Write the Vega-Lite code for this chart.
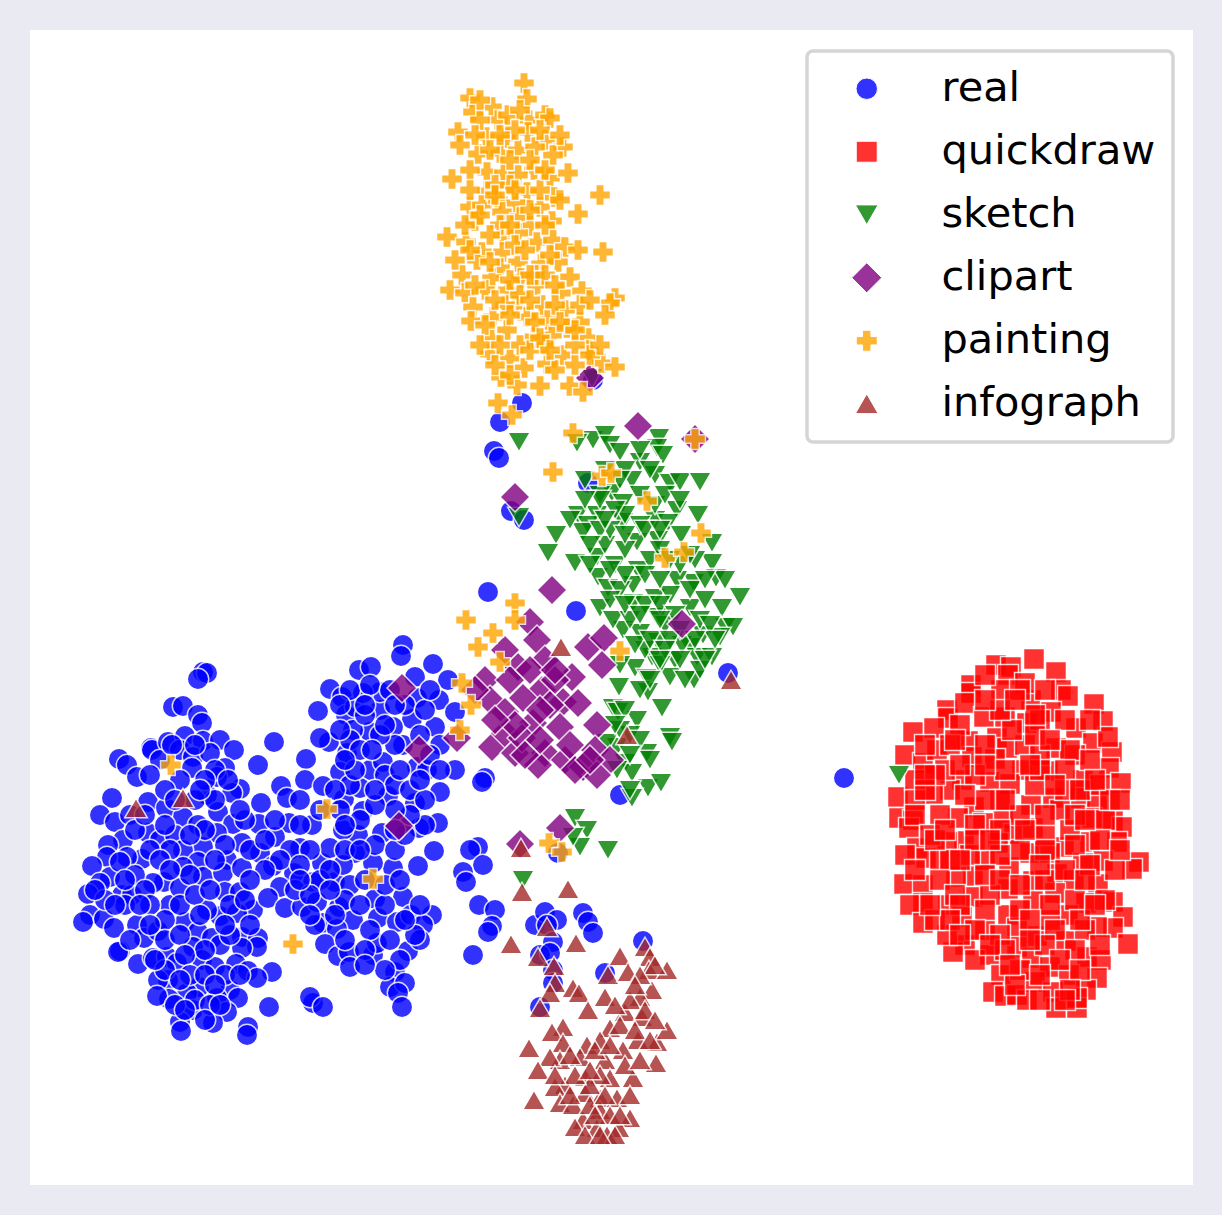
{"$schema":"https://vega.github.io/schema/vega-lite/v6.json","width":1163,"height":1155,"autosize":{"type":"none"},"padding":{"left":30,"top":30,"right":29,"bottom":30},"background":"#eaeaf2","config":{"view":{"fill":"white","stroke":null}},
"data":{"values":[
{"s":"real","x":203,"y":672},{"s":"real","x":207,"y":673},{"s":"real","x":198,"y":679},{"s":"real","x":173,"y":707},{"s":"real","x":183,"y":706},{"s":"real","x":198,"y":715},{"s":"real","x":202,"y":723},{"s":"real","x":151,"y":748},{"s":"real","x":152,"y":750},{"s":"real","x":168,"y":742},{"s":"real","x":185,"y":736},{"s":"real","x":203,"y":741},{"s":"real","x":220,"y":740},{"s":"real","x":234,"y":750},{"s":"real","x":119,"y":759},{"s":"real","x":127,"y":765},{"s":"real","x":137,"y":777},{"s":"real","x":180,"y":750},{"s":"real","x":193,"y":757},{"s":"real","x":210,"y":753},{"s":"real","x":225,"y":768},{"s":"real","x":217,"y":777},{"s":"real","x":240,"y":789},{"s":"real","x":232,"y":793},{"s":"real","x":192,"y":768},{"s":"real","x":207,"y":795},{"s":"real","x":112,"y":798},{"s":"real","x":100,"y":815},{"s":"real","x":115,"y":822},{"s":"real","x":148,"y":802},{"s":"real","x":166,"y":808},{"s":"real","x":183,"y":817},{"s":"real","x":198,"y":825},{"s":"real","x":218,"y":812},{"s":"real","x":233,"y":824},{"s":"real","x":242,"y":843},{"s":"real","x":217,"y":833},{"s":"real","x":148,"y":833},{"s":"real","x":123,"y":840},{"s":"real","x":108,"y":845},{"s":"real","x":160,"y":840},{"s":"real","x":175,"y":835},{"s":"real","x":203,"y":847},{"s":"real","x":183,"y":850},{"s":"real","x":142,"y":859},{"s":"real","x":127,"y":857},{"s":"real","x":107,"y":857},{"s":"real","x":92,"y":866},{"s":"real","x":110,"y":877},{"s":"real","x":100,"y":883},{"s":"real","x":88,"y":894},{"s":"real","x":90,"y":915},{"s":"real","x":83,"y":922},{"s":"real","x":104,"y":919},{"s":"real","x":114,"y":928},{"s":"real","x":122,"y":895},{"s":"real","x":132,"y":895},{"s":"real","x":137,"y":925},{"s":"real","x":144,"y":938},{"s":"real","x":158,"y":931},{"s":"real","x":170,"y":905},{"s":"real","x":164,"y":882},{"s":"real","x":153,"y":883},{"s":"real","x":180,"y":888},{"s":"real","x":198,"y":862},{"s":"real","x":183,"y":867},{"s":"real","x":203,"y":877},{"s":"real","x":227,"y":860},{"s":"real","x":223,"y":873},{"s":"real","x":242,"y":868},{"s":"real","x":225,"y":892},{"s":"real","x":240,"y":892},{"s":"real","x":253,"y":910},{"s":"real","x":220,"y":916},{"s":"real","x":237,"y":913},{"s":"real","x":207,"y":910},{"s":"real","x":185,"y":922},{"s":"real","x":198,"y":932},{"s":"real","x":212,"y":938},{"s":"real","x":242,"y":937},{"s":"real","x":258,"y":938},{"s":"real","x":257,"y":947},{"s":"real","x":242,"y":948},{"s":"real","x":193,"y":947},{"s":"real","x":120,"y":951},{"s":"real","x":118,"y":952},{"s":"real","x":138,"y":964},{"s":"real","x":153,"y":958},{"s":"real","x":167,"y":957},{"s":"real","x":177,"y":963},{"s":"real","x":202,"y":960},{"s":"real","x":215,"y":967},{"s":"real","x":236,"y":964},{"s":"real","x":248,"y":971},{"s":"real","x":272,"y":972},{"s":"real","x":257,"y":978},{"s":"real","x":168,"y":980},{"s":"real","x":158,"y":980},{"s":"real","x":199,"y":987},{"s":"real","x":230,"y":990},{"s":"real","x":217,"y":998},{"s":"real","x":187,"y":993},{"s":"real","x":169,"y":999},{"s":"real","x":157,"y":996},{"s":"real","x":238,"y":998},{"s":"real","x":227,"y":1012},{"s":"real","x":193,"y":1010},{"s":"real","x":180,"y":1022},{"s":"real","x":181,"y":1031},{"s":"real","x":213,"y":1023},{"s":"real","x":248,"y":1027},{"s":"real","x":247,"y":1035},{"s":"real","x":269,"y":1007},{"s":"real","x":274,"y":742},{"s":"real","x":258,"y":765},{"s":"real","x":306,"y":759},{"s":"real","x":305,"y":780},{"s":"real","x":323,"y":786},{"s":"real","x":281,"y":786},{"s":"real","x":287,"y":798},{"s":"real","x":261,"y":803},{"s":"real","x":259,"y":824},{"s":"real","x":289,"y":823},{"s":"real","x":312,"y":825},{"s":"real","x":275,"y":837},{"s":"real","x":260,"y":853},{"s":"real","x":300,"y":848},{"s":"real","x":273,"y":866},{"s":"real","x":294,"y":873},{"s":"real","x":280,"y":887},{"s":"real","x":268,"y":898},{"s":"real","x":285,"y":908},{"s":"real","x":302,"y":907},{"s":"real","x":313,"y":882},{"s":"real","x":317,"y":902},{"s":"real","x":322,"y":863},{"s":"real","x":335,"y":882},{"s":"real","x":330,"y":848},{"s":"real","x":355,"y":853},{"s":"real","x":358,"y":835},{"s":"real","x":343,"y":830},{"s":"real","x":363,"y":811},{"s":"real","x":344,"y":799},{"s":"real","x":388,"y":796},{"s":"real","x":415,"y":803},{"s":"real","x":382,"y":833},{"s":"real","x":438,"y":823},{"s":"real","x":419,"y":828},{"s":"real","x":434,"y":851},{"s":"real","x":418,"y":866},{"s":"real","x":393,"y":868},{"s":"real","x":373,"y":863},{"s":"real","x":343,"y":865},{"s":"real","x":339,"y":907},{"s":"real","x":323,"y":923},{"s":"real","x":353,"y":920},{"s":"real","x":337,"y":929},{"s":"real","x":325,"y":944},{"s":"real","x":338,"y":956},{"s":"real","x":349,"y":952},{"s":"real","x":350,"y":967},{"s":"real","x":373,"y":955},{"s":"real","x":377,"y":943},{"s":"real","x":375,"y":899},{"s":"real","x":403,"y":897},{"s":"real","x":378,"y":918},{"s":"real","x":397,"y":922},{"s":"real","x":411,"y":915},{"s":"real","x":432,"y":915},{"s":"real","x":423,"y":925},{"s":"real","x":408,"y":951},{"s":"real","x":420,"y":940},{"s":"real","x":395,"y":972},{"s":"real","x":390,"y":987},{"s":"real","x":405,"y":983},{"s":"real","x":398,"y":993},{"s":"real","x":402,"y":1007},{"s":"real","x":313,"y":1003},{"s":"real","x":310,"y":997},{"s":"real","x":323,"y":1007},{"s":"real","x":403,"y":645},{"s":"real","x":401,"y":656},{"s":"real","x":433,"y":664},{"s":"real","x":359,"y":670},{"s":"real","x":371,"y":667},{"s":"real","x":330,"y":689},{"s":"real","x":342,"y":697},{"s":"real","x":318,"y":711},{"s":"real","x":346,"y":715},{"s":"real","x":355,"y":707},{"s":"real","x":380,"y":710},{"s":"real","x":380,"y":692},{"s":"real","x":363,"y":693},{"s":"real","x":415,"y":677},{"s":"real","x":417,"y":698},{"s":"real","x":439,"y":700},{"s":"real","x":412,"y":719},{"s":"real","x":448,"y":680},{"s":"real","x":455,"y":712},{"s":"real","x":393,"y":727},{"s":"real","x":370,"y":732},{"s":"real","x":353,"y":730},{"s":"real","x":329,"y":742},{"s":"real","x":320,"y":738},{"s":"real","x":347,"y":753},{"s":"real","x":340,"y":772},{"s":"real","x":370,"y":770},{"s":"real","x":383,"y":762},{"s":"real","x":403,"y":745},{"s":"real","x":417,"y":767},{"s":"real","x":435,"y":727},{"s":"real","x":427,"y":770},{"s":"real","x":360,"y":788},{"s":"real","x":440,"y":792},{"s":"real","x":455,"y":770},{"s":"real","x":485,"y":778},{"s":"real","x":482,"y":782},{"s":"real","x":488,"y":592},{"s":"real","x":576,"y":611},{"s":"real","x":728,"y":673},{"s":"real","x":844,"y":778},{"s":"real","x":522,"y":403},{"s":"real","x":500,"y":422},{"s":"real","x":494,"y":451},{"s":"real","x":499,"y":458},{"s":"real","x":511,"y":511},{"s":"real","x":524,"y":520},{"s":"real","x":588,"y":483},{"s":"real","x":593,"y":380},{"s":"real","x":620,"y":795},{"s":"real","x":478,"y":847},{"s":"real","x":470,"y":850},{"s":"real","x":483,"y":865},{"s":"real","x":463,"y":872},{"s":"real","x":466,"y":882},{"s":"real","x":479,"y":905},{"s":"real","x":495,"y":910},{"s":"real","x":492,"y":926},{"s":"real","x":488,"y":932},{"s":"real","x":473,"y":955},{"s":"real","x":535,"y":925},{"s":"real","x":545,"y":912},{"s":"real","x":557,"y":920},{"s":"real","x":547,"y":925},{"s":"real","x":553,"y":942},{"s":"real","x":540,"y":955},{"s":"real","x":550,"y":953},{"s":"real","x":553,"y":970},{"s":"real","x":553,"y":983},{"s":"real","x":540,"y":1007},{"s":"real","x":583,"y":913},{"s":"real","x":588,"y":922},{"s":"real","x":593,"y":933},{"s":"real","x":643,"y":941},{"s":"real","x":605,"y":973},{"s":"real","x":558,"y":853},
{"s":"real","x":160,"y":760},{"s":"real","x":172,"y":745},{"s":"real","x":195,"y":745},{"s":"real","x":215,"y":770},{"s":"real","x":205,"y":780},{"s":"real","x":228,"y":780},{"s":"real","x":180,"y":780},{"s":"real","x":165,"y":790},{"s":"real","x":195,"y":800},{"s":"real","x":175,"y":800},{"s":"real","x":215,"y":800},{"s":"real","x":130,"y":815},{"s":"real","x":135,"y":830},{"s":"real","x":165,"y":825},{"s":"real","x":205,"y":830},{"s":"real","x":225,"y":845},{"s":"real","x":190,"y":835},{"s":"real","x":170,"y":850},{"s":"real","x":150,"y":850},{"s":"real","x":120,"y":862},{"s":"real","x":135,"y":875},{"s":"real","x":160,"y":860},{"s":"real","x":190,"y":875},{"s":"real","x":215,"y":860},{"s":"real","x":170,"y":870},{"s":"real","x":145,"y":890},{"s":"real","x":125,"y":905},{"s":"real","x":150,"y":905},{"s":"real","x":180,"y":905},{"s":"real","x":195,"y":895},{"s":"real","x":210,"y":890},{"s":"real","x":230,"y":905},{"s":"real","x":165,"y":920},{"s":"real","x":200,"y":915},{"s":"real","x":130,"y":940},{"s":"real","x":165,"y":940},{"s":"real","x":180,"y":935},{"s":"real","x":220,"y":945},{"s":"real","x":230,"y":935},{"s":"real","x":205,"y":950},{"s":"real","x":185,"y":955},{"s":"real","x":165,"y":970},{"s":"real","x":190,"y":975},{"s":"real","x":225,"y":975},{"s":"real","x":240,"y":975},{"s":"real","x":205,"y":975},{"s":"real","x":180,"y":980},{"s":"real","x":215,"y":985},{"s":"real","x":195,"y":1000},{"s":"real","x":210,"y":1005},{"s":"real","x":175,"y":1005},{"s":"real","x":205,"y":1020},{"s":"real","x":185,"y":1010},{"s":"real","x":150,"y":925},{"s":"real","x":140,"y":905},{"s":"real","x":105,"y":900},{"s":"real","x":95,"y":890},{"s":"real","x":290,"y":850},{"s":"real","x":310,"y":850},{"s":"real","x":280,"y":860},{"s":"real","x":300,"y":865},{"s":"real","x":320,"y":880},{"s":"real","x":295,"y":890},{"s":"real","x":310,"y":895},{"s":"real","x":330,"y":870},{"s":"real","x":350,"y":885},{"s":"real","x":365,"y":880},{"s":"real","x":345,"y":900},{"s":"real","x":360,"y":905},{"s":"real","x":370,"y":930},{"s":"real","x":385,"y":905},{"s":"real","x":390,"y":940},{"s":"real","x":365,"y":950},{"s":"real","x":345,"y":940},{"s":"real","x":335,"y":915},{"s":"real","x":300,"y":825},{"s":"real","x":275,"y":820},{"s":"real","x":345,"y":850},{"s":"real","x":360,"y":820},{"s":"real","x":375,"y":845},{"s":"real","x":395,"y":850},{"s":"real","x":405,"y":835},{"s":"real","x":425,"y":825},{"s":"real","x":410,"y":815},{"s":"real","x":395,"y":810},{"s":"real","x":385,"y":775},{"s":"real","x":395,"y":785},{"s":"real","x":410,"y":790},{"s":"real","x":425,"y":800},{"s":"real","x":375,"y":805},{"s":"real","x":350,"y":785},{"s":"real","x":335,"y":790},{"s":"real","x":355,"y":770},{"s":"real","x":395,"y":745},{"s":"real","x":380,"y":735},{"s":"real","x":365,"y":715},{"s":"real","x":385,"y":725},{"s":"real","x":405,"y":705},{"s":"real","x":425,"y":710},{"s":"real","x":440,"y":745},{"s":"real","x":420,"y":735},{"s":"real","x":430,"y":755},{"s":"real","x":350,"y":740},{"s":"real","x":360,"y":750},{"s":"real","x":372,"y":750},{"s":"real","x":400,"y":770},{"s":"real","x":350,"y":690},{"s":"real","x":370,"y":685},{"s":"real","x":390,"y":690},{"s":"real","x":365,"y":705},{"s":"real","x":340,"y":730},{"s":"real","x":345,"y":760},{"s":"real","x":400,"y":960},{"s":"real","x":385,"y":970},{"s":"real","x":415,"y":935},{"s":"real","x":405,"y":920},{"s":"real","x":385,"y":885},{"s":"real","x":400,"y":880},{"s":"real","x":420,"y":905},
{"s":"real","x":250,"y":850},{"s":"real","x":265,"y":840},{"s":"real","x":245,"y":820},{"s":"real","x":300,"y":800},{"s":"real","x":320,"y":810},{"s":"real","x":340,"y":810},{"s":"real","x":360,"y":850},{"s":"real","x":345,"y":825},{"s":"real","x":395,"y":830},{"s":"real","x":375,"y":790},{"s":"real","x":420,"y":780},{"s":"real","x":440,"y":770},{"s":"real","x":430,"y":690},{"s":"real","x":395,"y":705},{"s":"real","x":340,"y":705},{"s":"real","x":300,"y":880},{"s":"real","x":330,"y":890},{"s":"real","x":265,"y":870},{"s":"real","x":315,"y":925},{"s":"real","x":310,"y":915},{"s":"real","x":365,"y":965},{"s":"real","x":150,"y":775},{"s":"real","x":145,"y":815},{"s":"real","x":125,"y":880},{"s":"real","x":115,"y":905},{"s":"real","x":250,"y":925},{"s":"real","x":225,"y":925},{"s":"real","x":220,"y":1005},{"s":"real","x":155,"y":960},{"s":"real","x":200,"y":790},{"s":"real","x":240,"y":810},{"s":"real","x":245,"y":900},{"s":"real","x":250,"y":880},
{"s":"quickdraw","x":1034,"y":659},{"s":"quickdraw","x":996,"y":665},{"s":"quickdraw","x":1011,"y":667},{"s":"quickdraw","x":1008,"y":675},{"s":"quickdraw","x":1056,"y":672},{"s":"quickdraw","x":1031,"y":700},{"s":"quickdraw","x":1061,"y":690},{"s":"quickdraw","x":1068,"y":696},{"s":"quickdraw","x":1094,"y":704},{"s":"quickdraw","x":971,"y":685},{"s":"quickdraw","x":971,"y":693},{"s":"quickdraw","x":1001,"y":690},{"s":"quickdraw","x":1025,"y":683},{"s":"quickdraw","x":1051,"y":712},{"s":"quickdraw","x":947,"y":710},{"s":"quickdraw","x":948,"y":718},{"s":"quickdraw","x":965,"y":703},{"s":"quickdraw","x":984,"y":717},{"s":"quickdraw","x":1005,"y":717},{"s":"quickdraw","x":1027,"y":723},{"s":"quickdraw","x":1076,"y":728},{"s":"quickdraw","x":1103,"y":721},{"s":"quickdraw","x":913,"y":732},{"s":"quickdraw","x":934,"y":728},{"s":"quickdraw","x":968,"y":741},{"s":"quickdraw","x":997,"y":738},{"s":"quickdraw","x":1007,"y":748},{"s":"quickdraw","x":1056,"y":748},{"s":"quickdraw","x":1093,"y":743},{"s":"quickdraw","x":1112,"y":752},{"s":"quickdraw","x":1108,"y":737},{"s":"quickdraw","x":905,"y":755},{"s":"quickdraw","x":923,"y":763},{"s":"quickdraw","x":937,"y":750},{"s":"quickdraw","x":972,"y":757},{"s":"quickdraw","x":995,"y":759},{"s":"quickdraw","x":1022,"y":770},{"s":"quickdraw","x":1048,"y":771},{"s":"quickdraw","x":1109,"y":768},{"s":"quickdraw","x":1121,"y":783},{"s":"quickdraw","x":1083,"y":780},{"s":"quickdraw","x":962,"y":780},{"s":"quickdraw","x":990,"y":782},{"s":"quickdraw","x":1010,"y":784},{"s":"quickdraw","x":950,"y":790},{"s":"quickdraw","x":933,"y":794},{"s":"quickdraw","x":898,"y":797},{"s":"quickdraw","x":974,"y":807},{"s":"quickdraw","x":1031,"y":805},{"s":"quickdraw","x":1053,"y":798},{"s":"quickdraw","x":1080,"y":798},{"s":"quickdraw","x":1060,"y":810},{"s":"quickdraw","x":1097,"y":800},{"s":"quickdraw","x":1092,"y":818},{"s":"quickdraw","x":1003,"y":818},{"s":"quickdraw","x":958,"y":818},{"s":"quickdraw","x":899,"y":818},{"s":"quickdraw","x":913,"y":820},{"s":"quickdraw","x":909,"y":828},{"s":"quickdraw","x":1113,"y":821},{"s":"quickdraw","x":1122,"y":827},{"s":"quickdraw","x":1014,"y":834},{"s":"quickdraw","x":1033,"y":828},{"s":"quickdraw","x":983,"y":823},{"s":"quickdraw","x":964,"y":841},{"s":"quickdraw","x":947,"y":842},{"s":"quickdraw","x":998,"y":843},{"s":"quickdraw","x":1064,"y":847},{"s":"quickdraw","x":1090,"y":842},{"s":"quickdraw","x":1117,"y":842},{"s":"quickdraw","x":917,"y":848},{"s":"quickdraw","x":926,"y":858},{"s":"quickdraw","x":1030,"y":853},{"s":"quickdraw","x":1050,"y":853},{"s":"quickdraw","x":1103,"y":861},{"s":"quickdraw","x":1139,"y":862},{"s":"quickdraw","x":1132,"y":869},{"s":"quickdraw","x":1009,"y":867},{"s":"quickdraw","x":973,"y":876},{"s":"quickdraw","x":956,"y":877},{"s":"quickdraw","x":1057,"y":874},{"s":"quickdraw","x":1083,"y":863},{"s":"quickdraw","x":904,"y":884},{"s":"quickdraw","x":923,"y":885},{"s":"quickdraw","x":1008,"y":889},{"s":"quickdraw","x":1033,"y":881},{"s":"quickdraw","x":1098,"y":884},{"s":"quickdraw","x":1074,"y":880},{"s":"quickdraw","x":973,"y":897},{"s":"quickdraw","x":923,"y":903},{"s":"quickdraw","x":948,"y":905},{"s":"quickdraw","x":1033,"y":901},{"s":"quickdraw","x":1055,"y":893},{"s":"quickdraw","x":1086,"y":903},{"s":"quickdraw","x":1113,"y":902},{"s":"quickdraw","x":910,"y":905},{"s":"quickdraw","x":1008,"y":915},{"s":"quickdraw","x":1068,"y":915},{"s":"quickdraw","x":1123,"y":917},{"s":"quickdraw","x":962,"y":917},{"s":"quickdraw","x":923,"y":923},{"s":"quickdraw","x":1037,"y":936},{"s":"quickdraw","x":1066,"y":941},{"s":"quickdraw","x":1017,"y":928},{"s":"quickdraw","x":1113,"y":928},{"s":"quickdraw","x":1097,"y":927},{"s":"quickdraw","x":1128,"y":944},{"s":"quickdraw","x":965,"y":945},{"s":"quickdraw","x":953,"y":952},{"s":"quickdraw","x":947,"y":935},{"s":"quickdraw","x":990,"y":955},{"s":"quickdraw","x":1017,"y":947},{"s":"quickdraw","x":1087,"y":957},{"s":"quickdraw","x":1101,"y":960},{"s":"quickdraw","x":1032,"y":958},{"s":"quickdraw","x":1001,"y":975},{"s":"quickdraw","x":1050,"y":967},{"s":"quickdraw","x":1069,"y":975},{"s":"quickdraw","x":1097,"y":978},{"s":"quickdraw","x":993,"y":992},{"s":"quickdraw","x":1005,"y":996},{"s":"quickdraw","x":1017,"y":995},{"s":"quickdraw","x":1035,"y":982},{"s":"quickdraw","x":1053,"y":992},{"s":"quickdraw","x":1086,"y":990},{"s":"quickdraw","x":1056,"y":1008},{"s":"quickdraw","x":1077,"y":1008},{"s":"quickdraw","x":1077,"y":998},{"s":"quickdraw","x":1027,"y":1000},{"s":"quickdraw","x":940,"y":860},{"s":"quickdraw","x":985,"y":860},{"s":"quickdraw","x":990,"y":895},{"s":"quickdraw","x":1050,"y":920},{"s":"quickdraw","x":985,"y":930},{"s":"quickdraw","x":1045,"y":835},{"s":"quickdraw","x":1070,"y":830},{"s":"quickdraw","x":1075,"y":755},{"s":"quickdraw","x":945,"y":770},{"s":"quickdraw","x":1000,"y":800},{"s":"quickdraw","x":1085,"y":930},
{"s":"quickdraw","x":985,"y":675},{"s":"quickdraw","x":1020,"y":690},{"s":"quickdraw","x":1045,"y":690},{"s":"quickdraw","x":1040,"y":720},{"s":"quickdraw","x":1065,"y":720},{"s":"quickdraw","x":1090,"y":720},{"s":"quickdraw","x":960,"y":725},{"s":"quickdraw","x":925,"y":745},{"s":"quickdraw","x":950,"y":745},{"s":"quickdraw","x":985,"y":745},{"s":"quickdraw","x":1025,"y":745},{"s":"quickdraw","x":1040,"y":755},{"s":"quickdraw","x":1070,"y":750},{"s":"quickdraw","x":1090,"y":760},{"s":"quickdraw","x":1100,"y":785},{"s":"quickdraw","x":915,"y":780},{"s":"quickdraw","x":935,"y":775},{"s":"quickdraw","x":975,"y":775},{"s":"quickdraw","x":1005,"y":770},{"s":"quickdraw","x":1035,"y":785},{"s":"quickdraw","x":1065,"y":770},{"s":"quickdraw","x":1065,"y":790},{"s":"quickdraw","x":915,"y":800},{"s":"quickdraw","x":915,"y":815},{"s":"quickdraw","x":940,"y":815},{"s":"quickdraw","x":975,"y":825},{"s":"quickdraw","x":1020,"y":815},{"s":"quickdraw","x":1045,"y":815},{"s":"quickdraw","x":1075,"y":815},{"s":"quickdraw","x":1105,"y":820},{"s":"quickdraw","x":1100,"y":840},{"s":"quickdraw","x":1075,"y":845},{"s":"quickdraw","x":1045,"y":850},{"s":"quickdraw","x":1020,"y":850},{"s":"quickdraw","x":1000,"y":855},{"s":"quickdraw","x":970,"y":855},{"s":"quickdraw","x":950,"y":860},{"s":"quickdraw","x":930,"y":835},{"s":"quickdraw","x":905,"y":855},{"s":"quickdraw","x":915,"y":870},{"s":"quickdraw","x":940,"y":880},{"s":"quickdraw","x":955,"y":895},{"s":"quickdraw","x":985,"y":875},{"s":"quickdraw","x":1000,"y":880},{"s":"quickdraw","x":1020,"y":885},{"s":"quickdraw","x":1045,"y":880},{"s":"quickdraw","x":1065,"y":870},{"s":"quickdraw","x":1090,"y":865},{"s":"quickdraw","x":1115,"y":870},{"s":"quickdraw","x":1105,"y":900},{"s":"quickdraw","x":1075,"y":900},{"s":"quickdraw","x":1050,"y":905},{"s":"quickdraw","x":1020,"y":910},{"s":"quickdraw","x":985,"y":910},{"s":"quickdraw","x":960,"y":905},{"s":"quickdraw","x":935,"y":920},{"s":"quickdraw","x":950,"y":920},{"s":"quickdraw","x":975,"y":930},{"s":"quickdraw","x":1000,"y":935},{"s":"quickdraw","x":1030,"y":920},{"s":"quickdraw","x":1055,"y":930},{"s":"quickdraw","x":1080,"y":920},{"s":"quickdraw","x":1100,"y":945},{"s":"quickdraw","x":1075,"y":950},{"s":"quickdraw","x":1045,"y":945},{"s":"quickdraw","x":1005,"y":950},{"s":"quickdraw","x":975,"y":960},{"s":"quickdraw","x":1020,"y":970},{"s":"quickdraw","x":1060,"y":960},{"s":"quickdraw","x":1080,"y":970},{"s":"quickdraw","x":1040,"y":975},{"s":"quickdraw","x":1015,"y":985},{"s":"quickdraw","x":1070,"y":990},{"s":"quickdraw","x":1040,"y":1000},{"s":"quickdraw","x":1065,"y":1000},{"s":"quickdraw","x":1110,"y":800},{"s":"quickdraw","x":1085,"y":820},{"s":"quickdraw","x":1120,"y":850},{"s":"quickdraw","x":1005,"y":800},{"s":"quickdraw","x":1040,"y":770},{"s":"quickdraw","x":985,"y":800},{"s":"quickdraw","x":935,"y":840},{"s":"quickdraw","x":1000,"y":830},{"s":"quickdraw","x":975,"y":840},
{"s":"quickdraw","x":1035,"y":735},{"s":"quickdraw","x":1012,"y":730},{"s":"quickdraw","x":985,"y":765},{"s":"quickdraw","x":960,"y":765},{"s":"quickdraw","x":1000,"y":710},{"s":"quickdraw","x":1030,"y":765},{"s":"quickdraw","x":1055,"y":785},{"s":"quickdraw","x":1025,"y":830},{"s":"quickdraw","x":1040,"y":865},{"s":"quickdraw","x":990,"y":840},{"s":"quickdraw","x":960,"y":860},{"s":"quickdraw","x":925,"y":790},{"s":"quickdraw","x":945,"y":830},{"s":"quickdraw","x":965,"y":795},{"s":"quickdraw","x":1085,"y":880},{"s":"quickdraw","x":1095,"y":905},{"s":"quickdraw","x":1030,"y":940},{"s":"quickdraw","x":990,"y":945},{"s":"quickdraw","x":1010,"y":965},{"s":"quickdraw","x":960,"y":935},{"s":"quickdraw","x":930,"y":905},{"s":"quickdraw","x":1120,"y":800},{"s":"quickdraw","x":1080,"y":790},{"s":"quickdraw","x":1050,"y":740},{"s":"quickdraw","x":1095,"y":780},{"s":"quickdraw","x":1035,"y":715},{"s":"quickdraw","x":1015,"y":700},{"s":"quickdraw","x":985,"y":700},{"s":"quickdraw","x":955,"y":740},{"s":"quickdraw","x":925,"y":775},
{"s":"sketch","x":519,"y":442},{"s":"sketch","x":593,"y":440},{"s":"sketch","x":605,"y":435},{"s":"sketch","x":610,"y":445},{"s":"sketch","x":620,"y":452},{"s":"sketch","x":577,"y":443},{"s":"sketch","x":659,"y":438},{"s":"sketch","x":657,"y":448},{"s":"sketch","x":640,"y":462},{"s":"sketch","x":663,"y":455},{"s":"sketch","x":585,"y":480},{"s":"sketch","x":632,"y":480},{"s":"sketch","x":655,"y":475},{"s":"sketch","x":670,"y":483},{"s":"sketch","x":680,"y":482},{"s":"sketch","x":700,"y":482},{"s":"sketch","x":612,"y":493},{"s":"sketch","x":623,"y":503},{"s":"sketch","x":677,"y":510},{"s":"sketch","x":698,"y":515},{"s":"sketch","x":578,"y":515},{"s":"sketch","x":597,"y":515},{"s":"sketch","x":588,"y":525},{"s":"sketch","x":623,"y":522},{"s":"sketch","x":655,"y":520},{"s":"sketch","x":668,"y":523},{"s":"sketch","x":556,"y":535},{"s":"sketch","x":583,"y":532},{"s":"sketch","x":548,"y":553},{"s":"sketch","x":575,"y":563},{"s":"sketch","x":597,"y":557},{"s":"sketch","x":615,"y":565},{"s":"sketch","x":637,"y":542},{"s":"sketch","x":658,"y":540},{"s":"sketch","x":681,"y":535},{"s":"sketch","x":712,"y":543},{"s":"sketch","x":712,"y":563},{"s":"sketch","x":716,"y":578},{"s":"sketch","x":725,"y":580},{"s":"sketch","x":694,"y":583},{"s":"sketch","x":677,"y":580},{"s":"sketch","x":740,"y":597},{"s":"sketch","x":598,"y":577},{"s":"sketch","x":608,"y":588},{"s":"sketch","x":638,"y":570},{"s":"sketch","x":633,"y":585},{"s":"sketch","x":655,"y":598},{"s":"sketch","x":600,"y":608},{"s":"sketch","x":633,"y":603},{"s":"sketch","x":690,"y":608},{"s":"sketch","x":722,"y":608},{"s":"sketch","x":725,"y":627},{"s":"sketch","x":733,"y":627},{"s":"sketch","x":623,"y":630},{"s":"sketch","x":640,"y":633},{"s":"sketch","x":657,"y":617},{"s":"sketch","x":613,"y":620},{"s":"sketch","x":703,"y":635},{"s":"sketch","x":720,"y":637},{"s":"sketch","x":658,"y":642},{"s":"sketch","x":652,"y":657},{"s":"sketch","x":675,"y":660},{"s":"sketch","x":690,"y":647},{"s":"sketch","x":697,"y":657},{"s":"sketch","x":712,"y":657},{"s":"sketch","x":635,"y":668},{"s":"sketch","x":670,"y":677},{"s":"sketch","x":647,"y":678},{"s":"sketch","x":694,"y":680},{"s":"sketch","x":685,"y":680},{"s":"sketch","x":619,"y":687},{"s":"sketch","x":648,"y":692},{"s":"sketch","x":662,"y":708},{"s":"sketch","x":613,"y":708},{"s":"sketch","x":618,"y":712},{"s":"sketch","x":637,"y":720},{"s":"sketch","x":670,"y":737},{"s":"sketch","x":672,"y":742},{"s":"sketch","x":647,"y":753},{"s":"sketch","x":617,"y":747},{"s":"sketch","x":607,"y":743},{"s":"sketch","x":625,"y":763},{"s":"sketch","x":632,"y":773},{"s":"sketch","x":617,"y":770},{"s":"sketch","x":648,"y":788},{"s":"sketch","x":661,"y":783},{"s":"sketch","x":632,"y":798},{"s":"sketch","x":899,"y":775},{"s":"sketch","x":519,"y":517},{"s":"sketch","x":592,"y":378},{"s":"sketch","x":575,"y":818},{"s":"sketch","x":587,"y":830},{"s":"sketch","x":580,"y":847},{"s":"sketch","x":573,"y":837},{"s":"sketch","x":608,"y":850},{"s":"sketch","x":523,"y":880},{"s":"sketch","x":605,"y":545},{"s":"sketch","x":625,"y":550},{"s":"sketch","x":650,"y":560},{"s":"sketch","x":610,"y":530},{"s":"sketch","x":640,"y":525},{"s":"sketch","x":620,"y":590},{"s":"sketch","x":645,"y":605},{"s":"sketch","x":630,"y":620},{"s":"sketch","x":665,"y":625},{"s":"sketch","x":682,"y":645},{"s":"sketch","x":660,"y":665},{"s":"sketch","x":625,"y":515},{"s":"sketch","x":600,"y":530},{"s":"sketch","x":670,"y":595},{"s":"sketch","x":645,"y":650},
{"s":"sketch","x":600,"y":495},{"s":"sketch","x":615,"y":510},{"s":"sketch","x":640,"y":495},{"s":"sketch","x":655,"y":505},{"s":"sketch","x":665,"y":495},{"s":"sketch","x":590,"y":545},{"s":"sketch","x":570,"y":520},{"s":"sketch","x":605,"y":520},{"s":"sketch","x":625,"y":535},{"s":"sketch","x":645,"y":530},{"s":"sketch","x":660,"y":550},{"s":"sketch","x":680,"y":565},{"s":"sketch","x":695,"y":560},{"s":"sketch","x":705,"y":600},{"s":"sketch","x":610,"y":600},{"s":"sketch","x":625,"y":575},{"s":"sketch","x":645,"y":575},{"s":"sketch","x":660,"y":580},{"s":"sketch","x":625,"y":605},{"s":"sketch","x":640,"y":615},{"s":"sketch","x":660,"y":605},{"s":"sketch","x":675,"y":615},{"s":"sketch","x":700,"y":620},{"s":"sketch","x":680,"y":630},{"s":"sketch","x":710,"y":625},{"s":"sketch","x":635,"y":645},{"s":"sketch","x":650,"y":640},{"s":"sketch","x":670,"y":640},{"s":"sketch","x":665,"y":650},{"s":"sketch","x":680,"y":660},{"s":"sketch","x":700,"y":670},{"s":"sketch","x":625,"y":710},{"s":"sketch","x":630,"y":735},{"s":"sketch","x":640,"y":740},{"s":"sketch","x":620,"y":730},{"s":"sketch","x":630,"y":755},{"s":"sketch","x":650,"y":760},{"s":"sketch","x":640,"y":690},{"s":"sketch","x":660,"y":660},{"s":"sketch","x":705,"y":660},{"s":"sketch","x":715,"y":640},{"s":"sketch","x":610,"y":570},{"s":"sketch","x":590,"y":565},{"s":"sketch","x":670,"y":560},{"s":"sketch","x":690,"y":555},{"s":"sketch","x":650,"y":470},{"s":"sketch","x":625,"y":470},{"s":"sketch","x":600,"y":500},{"s":"sketch","x":585,"y":500},{"s":"sketch","x":605,"y":470},{"s":"sketch","x":640,"y":450},{"s":"sketch","x":620,"y":480},{"s":"sketch","x":680,"y":500},{"s":"sketch","x":660,"y":530},{"s":"sketch","x":690,"y":590},{"s":"sketch","x":705,"y":580},{"s":"sketch","x":660,"y":620},{"s":"sketch","x":695,"y":640},{"s":"sketch","x":650,"y":680},{"s":"sketch","x":620,"y":665},{"s":"sketch","x":615,"y":725},{"s":"sketch","x":630,"y":790},
{"s":"clipart","x":638,"y":426},{"s":"clipart","x":695,"y":439},{"s":"clipart","x":515,"y":497},{"s":"clipart","x":552,"y":590},{"s":"clipart","x":682,"y":624},{"s":"clipart","x":402,"y":688},{"s":"clipart","x":419,"y":750},{"s":"clipart","x":399,"y":826},{"s":"clipart","x":520,"y":844},{"s":"clipart","x":560,"y":828},{"s":"clipart","x":590,"y":378},{"s":"clipart","x":530,"y":622},{"s":"clipart","x":537,"y":640},{"s":"clipart","x":588,"y":647},{"s":"clipart","x":604,"y":638},{"s":"clipart","x":602,"y":665},{"s":"clipart","x":545,"y":660},{"s":"clipart","x":518,"y":667},{"s":"clipart","x":572,"y":677},{"s":"clipart","x":505,"y":650},{"s":"clipart","x":485,"y":680},{"s":"clipart","x":490,"y":700},{"s":"clipart","x":505,"y":712},{"s":"clipart","x":542,"y":690},{"s":"clipart","x":523,"y":698},{"s":"clipart","x":563,"y":702},{"s":"clipart","x":578,"y":703},{"s":"clipart","x":533,"y":723},{"s":"clipart","x":560,"y":727},{"s":"clipart","x":597,"y":725},{"s":"clipart","x":492,"y":747},{"s":"clipart","x":505,"y":733},{"s":"clipart","x":515,"y":753},{"s":"clipart","x":545,"y":753},{"s":"clipart","x":538,"y":765},{"s":"clipart","x":565,"y":760},{"s":"clipart","x":583,"y":767},{"s":"clipart","x":595,"y":750},{"s":"clipart","x":610,"y":760},{"s":"clipart","x":597,"y":775},{"s":"clipart","x":522,"y":738},{"s":"clipart","x":457,"y":738},{"s":"clipart","x":510,"y":680},{"s":"clipart","x":530,"y":670},{"s":"clipart","x":555,"y":680},{"s":"clipart","x":550,"y":705},{"s":"clipart","x":515,"y":725},{"s":"clipart","x":540,"y":740},{"s":"clipart","x":570,"y":745},{"s":"clipart","x":525,"y":755},{"s":"clipart","x":575,"y":770},{"s":"clipart","x":590,"y":760},{"s":"clipart","x":475,"y":690},{"s":"clipart","x":495,"y":720},{"s":"clipart","x":540,"y":710},{"s":"clipart","x":555,"y":670},
{"s":"painting","x":524,"y":83},{"s":"painting","x":527,"y":99},{"s":"painting","x":470,"y":98},{"s":"painting","x":473,"y":112},{"s":"painting","x":492,"y":107},{"s":"painting","x":498,"y":120},{"s":"painting","x":508,"y":115},{"s":"painting","x":529,"y":120},{"s":"painting","x":545,"y":115},{"s":"painting","x":550,"y":118},{"s":"painting","x":458,"y":132},{"s":"painting","x":486,"y":137},{"s":"painting","x":506,"y":138},{"s":"painting","x":528,"y":132},{"s":"painting","x":545,"y":140},{"s":"painting","x":563,"y":147},{"s":"painting","x":553,"y":155},{"s":"painting","x":478,"y":154},{"s":"painting","x":500,"y":153},{"s":"painting","x":518,"y":150},{"s":"painting","x":535,"y":147},{"s":"painting","x":487,"y":172},{"s":"painting","x":504,"y":173},{"s":"painting","x":534,"y":170},{"s":"painting","x":550,"y":178},{"s":"painting","x":568,"y":173},{"s":"painting","x":452,"y":179},{"s":"painting","x":487,"y":191},{"s":"painting","x":518,"y":175},{"s":"painting","x":527,"y":192},{"s":"painting","x":554,"y":197},{"s":"painting","x":600,"y":195},{"s":"painting","x":470,"y":207},{"s":"painting","x":482,"y":205},{"s":"painting","x":498,"y":200},{"s":"painting","x":516,"y":203},{"s":"painting","x":540,"y":207},{"s":"painting","x":578,"y":214},{"s":"painting","x":552,"y":221},{"s":"painting","x":475,"y":221},{"s":"painting","x":502,"y":212},{"s":"painting","x":520,"y":217},{"s":"painting","x":530,"y":226},{"s":"painting","x":447,"y":237},{"s":"painting","x":466,"y":242},{"s":"painting","x":503,"y":235},{"s":"painting","x":518,"y":233},{"s":"painting","x":537,"y":242},{"s":"painting","x":553,"y":240},{"s":"painting","x":565,"y":247},{"s":"painting","x":578,"y":250},{"s":"painting","x":603,"y":252},{"s":"painting","x":482,"y":252},{"s":"painting","x":503,"y":252},{"s":"painting","x":477,"y":260},{"s":"painting","x":518,"y":262},{"s":"painting","x":541,"y":264},{"s":"painting","x":558,"y":262},{"s":"painting","x":500,"y":268},{"s":"painting","x":462,"y":275},{"s":"painting","x":492,"y":278},{"s":"painting","x":521,"y":278},{"s":"painting","x":570,"y":277},{"s":"painting","x":450,"y":290},{"s":"painting","x":465,"y":293},{"s":"painting","x":485,"y":290},{"s":"painting","x":508,"y":290},{"s":"painting","x":537,"y":285},{"s":"painting","x":561,"y":293},{"s":"painting","x":582,"y":291},{"s":"painting","x":473,"y":307},{"s":"painting","x":515,"y":306},{"s":"painting","x":542,"y":305},{"s":"painting","x":565,"y":310},{"s":"painting","x":615,"y":298},{"s":"painting","x":610,"y":303},{"s":"painting","x":605,"y":315},{"s":"painting","x":471,"y":321},{"s":"painting","x":493,"y":317},{"s":"painting","x":527,"y":317},{"s":"painting","x":548,"y":320},{"s":"painting","x":580,"y":322},{"s":"painting","x":567,"y":328},{"s":"painting","x":507,"y":330},{"s":"painting","x":534,"y":337},{"s":"painting","x":552,"y":335},{"s":"painting","x":491,"y":338},{"s":"painting","x":588,"y":338},{"s":"painting","x":563,"y":355},{"s":"painting","x":490,"y":354},{"s":"painting","x":510,"y":358},{"s":"painting","x":547,"y":364},{"s":"painting","x":524,"y":368},{"s":"painting","x":589,"y":350},{"s":"painting","x":602,"y":363},{"s":"painting","x":615,"y":367},{"s":"painting","x":501,"y":377},{"s":"painting","x":517,"y":385},{"s":"painting","x":540,"y":386},{"s":"painting","x":570,"y":386},{"s":"painting","x":583,"y":392},{"s":"painting","x":498,"y":403},{"s":"painting","x":512,"y":415},{"s":"painting","x":573,"y":433},{"s":"painting","x":553,"y":472},{"s":"painting","x":602,"y":476},{"s":"painting","x":611,"y":473},{"s":"painting","x":647,"y":501},{"s":"painting","x":701,"y":533},{"s":"painting","x":665,"y":558},{"s":"painting","x":684,"y":552},{"s":"painting","x":695,"y":439},{"s":"painting","x":515,"y":603},{"s":"painting","x":515,"y":620},{"s":"painting","x":466,"y":620},{"s":"painting","x":493,"y":633},{"s":"painting","x":478,"y":647},{"s":"painting","x":500,"y":662},{"s":"painting","x":620,"y":651},{"s":"painting","x":462,"y":683},{"s":"painting","x":471,"y":705},{"s":"painting","x":460,"y":730},{"s":"painting","x":171,"y":765},{"s":"painting","x":327,"y":809},{"s":"painting","x":373,"y":879},{"s":"painting","x":293,"y":944},{"s":"painting","x":549,"y":843},{"s":"painting","x":562,"y":852},{"s":"painting","x":510,"y":185},{"s":"painting","x":500,"y":225},{"s":"painting","x":535,"y":275},{"s":"painting","x":505,"y":305},{"s":"painting","x":520,"y":345},{"s":"painting","x":575,"y":345},
{"s":"painting","x":480,"y":120},{"s":"painting","x":520,"y":110},{"s":"painting","x":540,"y":130},{"s":"painting","x":490,"y":150},{"s":"painting","x":510,"y":160},{"s":"painting","x":530,"y":160},{"s":"painting","x":470,"y":170},{"s":"painting","x":495,"y":185},{"s":"painting","x":515,"y":190},{"s":"painting","x":540,"y":190},{"s":"painting","x":480,"y":215},{"s":"painting","x":510,"y":225},{"s":"painting","x":530,"y":210},{"s":"painting","x":545,"y":225},{"s":"painting","x":490,"y":235},{"s":"painting","x":515,"y":245},{"s":"painting","x":525,"y":250},{"s":"painting","x":550,"y":255},{"s":"painting","x":470,"y":250},{"s":"painting","x":490,"y":262},{"s":"painting","x":530,"y":275},{"s":"painting","x":510,"y":280},{"s":"painting","x":545,"y":275},{"s":"painting","x":555,"y":285},{"s":"painting","x":475,"y":285},{"s":"painting","x":495,"y":300},{"s":"painting","x":520,"y":295},{"s":"painting","x":555,"y":305},{"s":"painting","x":580,"y":305},{"s":"painting","x":510,"y":315},{"s":"painting","x":535,"y":322},{"s":"painting","x":560,"y":322},{"s":"painting","x":500,"y":345},{"s":"painting","x":530,"y":350},{"s":"painting","x":545,"y":345},{"s":"painting","x":575,"y":330},{"s":"painting","x":590,"y":355},{"s":"painting","x":575,"y":365},{"s":"painting","x":555,"y":370},{"s":"painting","x":510,"y":375},{"s":"painting","x":485,"y":325},{"s":"painting","x":540,"y":338},{"s":"painting","x":550,"y":350},{"s":"painting","x":530,"y":300},{"s":"painting","x":475,"y":135},{"s":"painting","x":515,"y":130},{"s":"painting","x":495,"y":195},{"s":"painting","x":545,"y":170},{"s":"painting","x":560,"y":200},{"s":"painting","x":465,"y":225},{"s":"painting","x":480,"y":100},{"s":"painting","x":460,"y":145},{"s":"painting","x":500,"y":135},{"s":"painting","x":560,"y":135},{"s":"painting","x":470,"y":190},{"s":"painting","x":455,"y":260},{"s":"painting","x":590,"y":300},{"s":"painting","x":600,"y":345},{"s":"painting","x":480,"y":345},{"s":"painting","x":495,"y":365},
{"s":"infograph","x":521,"y":848},{"s":"infograph","x":522,"y":892},{"s":"infograph","x":568,"y":889},{"s":"infograph","x":547,"y":927},{"s":"infograph","x":511,"y":944},{"s":"infograph","x":576,"y":943},{"s":"infograph","x":538,"y":957},{"s":"infograph","x":554,"y":966},{"s":"infograph","x":555,"y":983},{"s":"infograph","x":550,"y":993},{"s":"infograph","x":540,"y":1008},{"s":"infograph","x":573,"y":988},{"s":"infograph","x":579,"y":993},{"s":"infograph","x":605,"y":997},{"s":"infograph","x":588,"y":1010},{"s":"infograph","x":608,"y":975},{"s":"infograph","x":620,"y":956},{"s":"infograph","x":645,"y":947},{"s":"infograph","x":650,"y":957},{"s":"infograph","x":649,"y":970},{"s":"infograph","x":628,"y":972},{"s":"infograph","x":667,"y":970},{"s":"infograph","x":652,"y":990},{"s":"infograph","x":640,"y":997},{"s":"infograph","x":625,"y":1012},{"s":"infograph","x":642,"y":1017},{"s":"infograph","x":610,"y":1028},{"s":"infograph","x":563,"y":1027},{"s":"infograph","x":552,"y":1032},{"s":"infograph","x":657,"y":1042},{"s":"infograph","x":667,"y":1030},{"s":"infograph","x":638,"y":1040},{"s":"infograph","x":587,"y":1045},{"s":"infograph","x":563,"y":1043},{"s":"infograph","x":529,"y":1048},{"s":"infograph","x":623,"y":1050},{"s":"infograph","x":656,"y":1063},{"s":"infograph","x":560,"y":1060},{"s":"infograph","x":580,"y":1057},{"s":"infograph","x":605,"y":1060},{"s":"infograph","x":550,"y":1057},{"s":"infograph","x":538,"y":1070},{"s":"infograph","x":633,"y":1078},{"s":"infograph","x":565,"y":1085},{"s":"infograph","x":585,"y":1077},{"s":"infograph","x":610,"y":1078},{"s":"infograph","x":555,"y":1087},{"s":"infograph","x":534,"y":1100},{"s":"infograph","x":560,"y":1103},{"s":"infograph","x":573,"y":1105},{"s":"infograph","x":585,"y":1093},{"s":"infograph","x":600,"y":1098},{"s":"infograph","x":617,"y":1098},{"s":"infograph","x":630,"y":1118},{"s":"infograph","x":600,"y":1110},{"s":"infograph","x":583,"y":1120},{"s":"infograph","x":575,"y":1127},{"s":"infograph","x":597,"y":1128},{"s":"infograph","x":619,"y":1128},{"s":"infograph","x":607,"y":1135},{"s":"infograph","x":627,"y":735},{"s":"infograph","x":731,"y":680},{"s":"infograph","x":561,"y":647},{"s":"infograph","x":136,"y":808},{"s":"infograph","x":183,"y":798},{"s":"infograph","x":630,"y":1000},{"s":"infograph","x":645,"y":1010},{"s":"infograph","x":620,"y":1025},{"s":"infograph","x":635,"y":1030},{"s":"infograph","x":600,"y":1040},{"s":"infograph","x":625,"y":1065},{"s":"infograph","x":640,"y":1060},{"s":"infograph","x":650,"y":1040},{"s":"infograph","x":615,"y":1005},{"s":"infograph","x":655,"y":1020},{"s":"infograph","x":655,"y":965},{"s":"infograph","x":640,"y":975},{"s":"infograph","x":635,"y":985},{"s":"infograph","x":600,"y":1075},{"s":"infograph","x":590,"y":1085},{"s":"infograph","x":575,"y":1075},{"s":"infograph","x":570,"y":1095},{"s":"infograph","x":590,"y":1105},{"s":"infograph","x":610,"y":1115},{"s":"infograph","x":595,"y":1115},{"s":"infograph","x":585,"y":1135},{"s":"infograph","x":615,"y":1135},{"s":"infograph","x":570,"y":1055},{"s":"infograph","x":595,"y":1050},{"s":"infograph","x":610,"y":1045},{"s":"infograph","x":630,"y":1095},{"s":"infograph","x":555,"y":1075},{"s":"infograph","x":605,"y":1095},{"s":"infograph","x":620,"y":1115},{"s":"infograph","x":590,"y":1070},{"s":"infograph","x":600,"y":1135}
]},
"mark":{"type":"point","filled":true,"opacity":0.8,"stroke":"white","strokeWidth":1.5},
"encoding":{
"x":{"field":"x","type":"quantitative","scale":{"domain":[30,1193],"nice":false,"zero":false},"axis":null},
"y":{"field":"y","type":"quantitative","scale":{"domain":[30,1185],"nice":false,"zero":false,"reverse":true},"axis":null},
"color":{"field":"s","type":"nominal","scale":{"domain":["real","quickdraw","sketch","clipart","painting","infograph"],"range":["blue","red","green","purple","orange","brown"]},"legend":{"title":null,"orient":"none","legendX":777,"legendY":21,"padding":17,"labelFont":"DejaVu Sans","labelFontSize":41.5,"labelColor":"black","labelOffset":54,"symbolOffset":22,"rowPadding":20,"cornerRadius":6,"fillColor":"white","strokeColor":"#d5d5d5","symbolOpacity":0.8,"symbolStrokeColor":"white","symbolStrokeWidth":1,"labelLimit":400,"encode":{"legend":{"update":{"strokeWidth":{"value":3.5}}}}}},
"shape":{"field":"s","type":"nominal","scale":{"domain":["real","quickdraw","sketch","clipart","painting","infograph"],"range":["circle","square","triangle-down","diamond","cross","triangle-up"]}},
"size":{"field":"s","type":"nominal","scale":{"type":"ordinal","domain":["real","quickdraw","sketch","clipart","painting","infograph"],"range":[460,440,520,900,440,520]}}
}}
